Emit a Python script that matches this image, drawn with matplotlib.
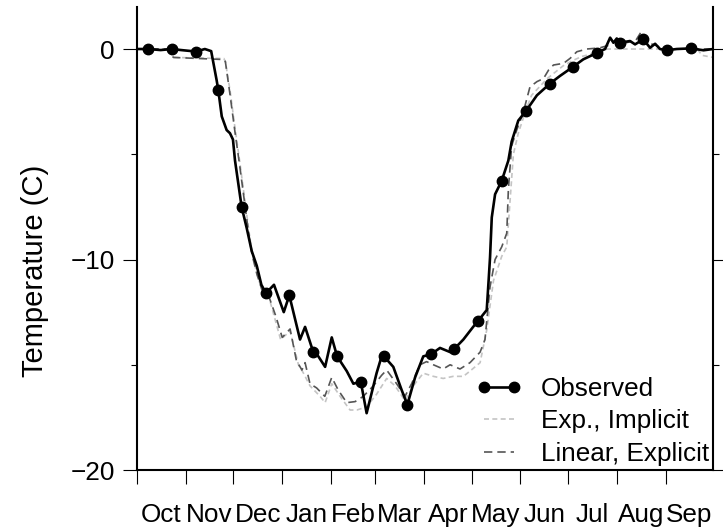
import numpy as np
import matplotlib
matplotlib.use("Agg")
from matplotlib import pyplot, ticker
from matplotlib.lines import Line2D

# water year starting Oct 1, x in days
months = ["Oct", "Nov", "Dec", "Jan", "Feb", "Mar", "Apr", "May", "Jun", "Jul", "Aug", "Sep"]
month_len = [31, 30, 31, 31, 28, 31, 30, 31, 30, 31, 31, 30]

# observed soil temperature
obs_day = [0, 7, 15, 22, 28, 37.4, 43, 47, 50.5, 51.5, 53.7, 56.8, 58.9, 60.8, 62.1,
           66.3, 69.5, 72.7, 75.9, 78.8, 81.7, 86.8, 93, 96.5, 103.3, 106.5, 111.7,
           114.9, 119.2, 123.4, 126.8, 132.9, 137.1, 141.8, 145.5, 151.8, 155, 156.5,
           162.4, 167.7, 171.3, 176.2, 181.4, 186.3, 192, 198.5, 201, 206.8, 213,
           216.3, 221.6, 222.8, 223.7, 224.8, 226.9, 231.1, 235.3, 237.4, 241.6,
           246.5, 253.4, 261.7, 268, 276.2, 282.8, 291.3, 296.6, 299.8, 301.9, 304,
           306.1, 312.4, 315.6, 320.8, 325.1, 328.3, 331.4, 335.6, 342, 351, 359, 365]
obs_temp = [0.0, 0.0, -0.05, 0.0, -0.05, -0.12, 0.0, -0.1, -1.5, -1.95, -3.2, -3.85,
            -4.0, -4.3, -5.3, -7.5, -8.5, -9.6, -10.3, -11.2, -11.6, -11.2, -12.5,
            -11.7, -13.8, -13.2, -14.4, -14.6, -15.1, -13.7, -14.6, -15.3, -15.9,
            -15.8, -17.3, -15.4, -14.6, -14.6, -15.1, -16.2, -16.9, -15.6, -14.6,
            -14.5, -14.2, -14.4, -14.25, -13.8, -13.2, -12.9, -12.4, -11.0, -9.9,
            -8.0, -6.9, -6.26, -5.3, -4.4, -3.4, -2.94, -2.2, -1.64, -1.28, -0.85,
            -0.49, -0.19, 0.0, 0.54, 0.3, 0.5, 0.3, 0.38, 0.22, 0.46, 0.06, 0.25,
            0.0, -0.06, 0.0, 0.03, -0.06, 0.0]

# observed sample points shown as dots
dot_day = [7, 22, 37.4, 51.5, 66.3, 81.7, 96.5, 111.7, 126.8, 141.8, 156.5, 171.3,
           186.3, 201, 216.3, 231.1, 246.5, 261.7, 276.2, 291.3, 306.1, 320.8, 335.6, 351]
dot_temp = [0.0, 0.0, -0.12, -1.95, -7.5, -11.6, -11.7, -14.4, -14.6, -15.8, -14.6,
            -16.9, -14.5, -14.25, -12.9, -6.26, -2.94, -1.64, -0.85, -0.19, 0.3,
            0.46, -0.06, 0.03]

# Exp., Implicit model
exp_day = [0, 20, 23, 55, 56, 59, 62, 65, 68, 71, 73, 76, 79, 84, 91, 97, 102.3,
           105.5, 109.6, 116, 119.2, 123.4, 128.7, 135, 139.3, 145.5, 151.8, 158.2,
           163.5, 169.8, 175.1, 181.4, 187.8, 194, 200.4, 206.8, 211, 217.4, 221.6,
           225.9, 231.1, 234.3, 236.4, 238.5, 241.6, 246, 250, 255, 260, 265, 270,
           276, 282, 290, 298, 355, 358, 365]
exp_temp = [0.0, 0.0, -0.4, -0.45, -0.6, -2.0, -3.7, -5.3, -7.0, -8.7, -9.7, -10.7,
            -11.4, -11.9, -13.8, -13.4, -15.0, -15.4, -16.0, -16.5, -16.8, -15.9,
            -16.5, -17.15, -17.15, -17.0, -16.4, -15.65, -16.0, -16.7, -16.0, -15.4,
            -15.55, -15.65, -15.55, -15.55, -15.3, -14.9, -13.35, -11.0, -9.85, -9.4,
            -7.2, -5.0, -4.0, -3.0, -2.2, -1.8, -1.4, -1.1, -0.8, -0.55, -0.35, -0.2,
            0.0, 0.0, -0.3, -0.4]

# Linear, Explicit model
lin_day = [0, 20, 23, 55, 56, 59, 62, 65, 68, 71, 73, 76, 79, 84, 88, 92, 97, 101,
           104.5, 106.5, 109.6, 113.8, 119, 123.4, 127.5, 132.9, 138.2, 143.4, 149.8,
           155, 158.2, 164.5, 169.8, 174, 179.3, 183.5, 187.8, 194, 198.4, 204.7, 211,
           217.4, 220.5, 223.7, 226.9, 231.1, 234.3, 235.3, 237.4, 240.6, 244.6, 249,
           253.4, 257.6, 260.8, 263.9, 270.3, 274.5, 278.7, 285, 293, 300, 306, 310,
           316, 319.5, 323, 328, 334, 350, 365]
lin_temp = [0.0, 0.0, -0.4, -0.5, -0.6, -2.2, -3.9, -5.5, -7.2, -8.9, -9.8, -10.7,
            -11.4, -11.85, -12.7, -13.7, -13.3, -14.8, -15.25, -14.9, -15.9, -16.1,
            -16.5, -15.6, -16.2, -16.8, -16.75, -16.5, -16.0, -15.5, -15.25, -15.9,
            -16.5, -15.9, -15.0, -14.85, -15.0, -15.2, -15.0, -15.2, -14.9, -14.4,
            -13.8, -11.3, -10.0, -9.4, -8.75, -6.7, -4.6, -3.85, -3.05, -1.8, -1.55,
            -1.4, -1.0, -0.76, -0.68, -0.44, -0.13, 0.0, 0.05, 0.2, 0.5, 0.3, 0.4,
            0.82, 0.3, 0.2, 0.0, 0.0, 0.0]

FS = 18.8


def plot():
    pyplot.rcParams["font.family"] = ["Liberation Sans", "DejaVu Sans"]
    fig = pyplot.figure(figsize=(7.23, 5.32), dpi=100)
    ax = fig.add_axes([0.1895, 0.1165, 0.7967, 0.8705])

    ax.plot(exp_day, exp_temp, color="#c4c4c4", lw=1.2, ls=(0, (3, 2)), zorder=2)
    ax.plot(lin_day, lin_temp, color="#555555", lw=1.2, ls=(0, (5, 3)), zorder=3)
    ax.plot(obs_day, obs_temp, color="black", lw=1.9, zorder=4)
    ax.plot(dot_day, dot_temp, "o", color="black", ms=7.5, zorder=5)

    handles = [
        Line2D([], [], color="black", lw=1.9, marker="o", ms=7.5),
        Line2D([], [], color="#c4c4c4", lw=1.2, ls=(0, (3, 2))),
        Line2D([], [], color="#555555", lw=1.2, ls=(0, (5, 3))),
    ]
    ax.legend(handles, ["Observed", "Exp., Implicit", "Linear, Explicit"],
              loc="lower right", frameon=False, fontsize=FS, numpoints=2,
              handlelength=1.75, handletextpad=0.75, labelspacing=0.33,
              borderaxespad=0.0, borderpad=0.15)

    starts = np.concatenate([[0], np.cumsum(month_len)])
    mids = (starts[:-1] + starts[1:]) / 2
    ax.set_xlim(0, 365)
    ax.xaxis.set_major_locator(ticker.FixedLocator(starts[:-1]))
    ax.xaxis.set_major_formatter(ticker.NullFormatter())
    ax.xaxis.set_minor_locator(ticker.FixedLocator(mids))
    ax.xaxis.set_minor_formatter(ticker.FixedFormatter(months))
    ax.tick_params(axis="x", which="major", direction="out", length=10, width=0.8)
    ax.tick_params(axis="x", which="minor", length=0, pad=24, labelsize=FS)

    ax.set_ylim(-20, 2)
    ax.yaxis.set_major_locator(ticker.FixedLocator([-20, -10, 0]))
    ax.yaxis.set_minor_locator(ticker.FixedLocator([-15, -5]))
    ax.tick_params(axis="y", which="major", direction="out", length=10, width=0.8,
                   right=True, labelsize=FS, pad=6)
    ax.tick_params(axis="y", which="minor", direction="out", length=4, width=0.8,
                   right=True)
    ax.set_ylabel("Temperature (C)", fontsize=21)
    ax.yaxis.set_label_coords(-0.153, 0.43)

    ax.spines["top"].set_visible(False)
    for s in ["left", "right", "bottom"]:
        ax.spines[s].set_linewidth(1.5)

    fig.savefig("out.png", dpi=100)


plot()
